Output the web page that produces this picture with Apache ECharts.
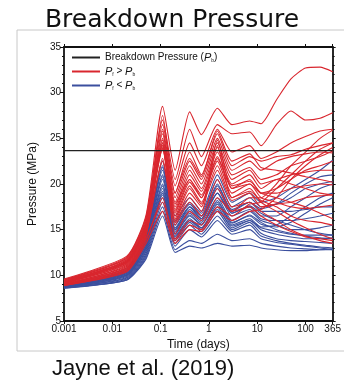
<!DOCTYPE html>
<html>
<head>
<meta charset="utf-8">
<script src="https://cdn.jsdelivr.net/npm/echarts@6/dist/echarts.min.js"></script>
<style>
html,body{margin:0;padding:0;background:#fff;}
#chart{width:344px;height:382px;}
</style>
</head>
<body>
<div id="chart"></div>
<script>
// ---- data ----
const times = [0.001, 0.02, 0.05, 0.11, 0.2, 0.4, 0.7, 1.5, 3, 7, 12, 25, 50, 100, 200, 365];
const xTickLabels = ['0.001', '0.01', '0.1', '1', '10', '100', '365'];
const yTickLabels = [5, 10, 15, 20, 25, 30, 35];
const breakdownPressure = 23.65;

// Pf > Pb (red)
const r01 = [9.6, 12.1, 16.6, 28.5, 21.5, 27.9, 25.4, 28.3, 26.5, 26.9, 26.6, 29.2, 31.5, 32.7, 32.8, 32.3];
const r02 = [9.5, 12.0, 16.4, 27.0, 20.5, 26.0, 23.0, 26.5, 25.5, 25.7, 24.2, 26.5, 28.0, 27.0, 27.2, 27.8];
const r03 = [9.4, 11.9, 16.2, 26.5, 19.8, 24.5, 22.0, 26.0, 23.5, 24.2, 22.8, 23.5, 24.5, 25.2, 25.8, 26.0];
const r04 = [9.5, 11.8, 16.0, 26.0, 19.0, 23.5, 21.0, 25.5, 22.0, 23.0, 22.5, 23.0, 23.2, 23.8, 24.2, 24.5];
const r05 = [9.3, 11.7, 15.8, 25.5, 18.5, 22.5, 20.5, 25.0, 21.5, 22.5, 21.5, 22.5, 23.0, 23.3, 23.5, 23.4];
const r06 = [9.4, 11.6, 15.6, 25.0, 18.0, 22.0, 20.0, 24.5, 21.0, 21.8, 20.5, 21.0, 22.0, 22.5, 23.0, 23.6];
const r07 = [9.2, 11.5, 15.5, 24.8, 17.5, 21.5, 19.5, 24.0, 20.5, 21.5, 20.0, 20.5, 21.0, 21.3, 21.5, 21.5];
const r08 = [9.3, 11.4, 15.3, 24.5, 17.2, 21.0, 19.2, 23.5, 20.0, 21.0, 19.5, 20.5, 20.0, 19.5, 19.0, 18.8];
const r09 = [9.1, 11.3, 15.2, 24.2, 17.0, 20.5, 18.8, 23.0, 19.5, 20.5, 19.0, 19.0, 19.5, 19.8, 20.0, 19.9];
const r10 = [9.2, 11.2, 15.0, 23.9, 16.8, 20.2, 18.5, 22.5, 19.0, 20.0, 18.5, 18.0, 17.5, 17.3, 17.5, 17.7];
const r11 = [9.0, 11.1, 14.9, 23.8, 16.5, 19.8, 18.0, 22.0, 18.5, 19.5, 18.0, 17.0, 16.0, 15.2, 14.5, 14.0];
const r12 = [9.1, 11.0, 14.8, 24.3, 16.2, 19.5, 17.8, 21.5, 18.2, 19.0, 17.5, 17.8, 18.0, 18.5, 18.7, 18.8];
const r13 = [9.0, 10.9, 14.6, 22.8, 16.0, 19.0, 17.5, 24.8, 19.5, 20.0, 19.0, 19.5, 20.5, 21.5, 22.0, 22.5];
const r14 = [9.0, 10.8, 14.5, 22.5, 15.8, 18.5, 17.0, 24.2, 18.5, 19.2, 18.2, 17.5, 16.5, 16.0, 15.8, 15.5];
const r15 = [8.9, 10.7, 14.3, 25.8, 17.8, 20.5, 18.5, 22.8, 19.8, 20.3, 19.0, 18.5, 18.0, 17.5, 16.8, 16.2];
const r16 = [9.2, 11.4, 15.4, 27.5, 19.0, 22.8, 20.8, 25.8, 22.5, 23.3, 21.8, 21.5, 21.2, 20.8, 20.5, 20.2];
const r17 = [9.3, 11.6, 15.7, 24.0, 15.5, 18.0, 16.5, 20.5, 17.5, 18.0, 17.0, 16.0, 15.0, 14.3, 13.8, 13.5];
const r18 = [8.9, 10.5, 13.8, 18.5, 14.0, 16.0, 15.5, 18.5, 17.0, 18.5, 18.5, 20.0, 22.0, 23.5, 25.0, 25.9];
const r19 = [9.0, 10.6, 14.0, 18.0, 13.8, 15.5, 15.0, 17.5, 16.5, 17.8, 18.0, 19.5, 21.0, 22.5, 23.8, 24.5];
const r20 = [8.9, 10.4, 13.5, 17.0, 13.5, 15.0, 14.8, 17.0, 16.0, 17.0, 17.2, 18.5, 20.5, 22.0, 23.2, 24.0];
const r21 = [9.2, 11.5, 15.3, 24.5, 14.5, 17.0, 16.0, 19.5, 17.0, 17.5, 16.5, 15.5, 14.8, 14.2, 14.0, 13.8];

// Pf < Pb (blue)
const b01 = [9.0, 10.8, 14.5, 22.5, 16.5, 18.5, 17.0, 21.0, 18.0, 19.0, 18.0, 18.5, 19.5, 20.5, 21.5, 22.6];
const b02 = [8.9, 10.6, 14.2, 22.0, 16.0, 18.0, 16.8, 20.5, 17.5, 18.5, 17.5, 17.8, 18.5, 19.5, 20.0, 20.3];
const b03 = [8.9, 10.5, 14.0, 21.5, 15.5, 17.5, 16.5, 20.0, 17.0, 18.0, 17.0, 17.0, 17.0, 17.2, 17.5, 17.5];
const b04 = [8.8, 10.4, 13.8, 21.0, 15.2, 17.2, 16.2, 19.5, 16.8, 17.5, 16.5, 16.5, 17.5, 18.5, 19.5, 20.0];
const b05 = [8.8, 10.3, 13.6, 20.5, 15.0, 17.0, 16.0, 19.0, 16.5, 17.2, 16.2, 16.0, 16.0, 16.2, 16.5, 16.8];
const b06 = [8.9, 10.2, 13.4, 20.0, 14.8, 16.8, 15.8, 18.5, 16.0, 17.0, 16.0, 15.5, 15.0, 15.0, 15.2, 15.5];
const b07 = [8.8, 10.1, 13.2, 19.5, 14.5, 16.5, 15.5, 18.2, 15.8, 16.5, 15.6, 15.3, 15.8, 16.8, 17.8, 18.5];
const b08 = [8.7, 10.0, 13.0, 19.2, 14.3, 16.2, 15.2, 17.8, 15.5, 16.2, 15.2, 14.8, 14.5, 14.4, 14.4, 14.4];
const b09 = [8.8, 9.9, 12.8, 19.0, 14.0, 16.0, 15.0, 17.5, 15.2, 16.0, 15.0, 14.5, 14.2, 14.0, 14.0, 14.1];
const b10 = [8.7, 9.8, 12.6, 18.5, 13.8, 15.8, 14.8, 17.0, 15.0, 15.8, 14.6, 14.0, 13.8, 13.7, 13.6, 13.5];
const b11 = [8.7, 9.7, 12.4, 18.0, 13.5, 15.5, 14.5, 16.5, 14.8, 15.5, 14.3, 13.8, 13.5, 13.3, 13.1, 13.0];
const b12 = [8.6, 9.6, 12.2, 17.5, 13.2, 15.0, 14.2, 16.0, 14.5, 15.0, 14.0, 13.6, 13.4, 13.2, 13.0, 12.8];
const b13 = [8.7, 9.5, 12.0, 17.0, 12.8, 13.8, 13.5, 14.5, 13.8, 14.0, 13.5, 13.2, 13.0, 12.9, 12.8, 12.8];
const b14 = [8.6, 9.5, 11.8, 16.5, 12.5, 13.2, 13.0, 13.5, 13.2, 13.3, 13.0, 12.8, 12.7, 12.7, 12.8, 12.9];
const b15 = [8.8, 10.4, 13.9, 20.8, 15.0, 17.5, 16.2, 19.8, 17.2, 18.0, 17.3, 17.8, 19.0, 20.0, 20.8, 21.0];
const b16 = [8.9, 10.6, 14.1, 21.8, 15.8, 17.8, 16.5, 19.0, 16.8, 17.6, 16.8, 16.0, 15.5, 15.0, 14.6, 14.4];
const b17 = [8.7, 10.0, 13.1, 18.8, 14.2, 16.0, 15.2, 17.2, 15.4, 16.0, 15.3, 15.5, 16.5, 17.5, 18.5, 19.0];
const b18 = [8.8, 10.2, 13.5, 19.8, 14.6, 16.6, 15.6, 18.0, 15.7, 16.6, 15.8, 15.0, 14.6, 14.3, 14.1, 14.0];

const redLines = [r01, r02, r03, r04, r05, r06, r07, r08, r09, r10, r11, r12, r13, r14, r15, r16, r17, r18, r19, r20, r21];
const blueLines = [b01, b02, b03, b04, b05, b06, b07, b08, b09, b10, b11, b12, b13, b14, b15, b16, b17, b18];

// ---- chart ----
const RED = '#d9262e', BLUE = '#3b4f9e';
const FONT = 'Liberation Sans';
const chart = echarts.init(document.getElementById('chart'), null, {renderer: 'canvas'});

const mk = (vals) => times.map((t, i) => [t, vals[i]]);
const series = [];
blueLines.forEach(v => series.push({
  name: 'low', type: 'line', data: mk(v), smooth: 0.2, showSymbol: false, silent: true,
  lineStyle: {color: BLUE, width: 1.1}, itemStyle: {color: BLUE}, z: 2
}));
redLines.forEach(v => series.push({
  name: 'high', type: 'line', data: mk(v), smooth: 0.2, showSymbol: false, silent: true,
  lineStyle: {color: RED, width: 1.1}, itemStyle: {color: RED}, z: 3
}));
series.push({
  name: 'bp', type: 'line', data: [[times[0], breakdownPressure], [times[times.length - 1], breakdownPressure]],
  showSymbol: false, silent: true, lineStyle: {color: '#222', width: 1.4}, itemStyle: {color: '#222'}, z: 4
});

const legendText = {
  bp: '{n|Breakdown Pressure (}{i|P}{s|b}{n|)}',
  high: '{i|P}{s|f}{n| > }{i|P}{s|b}',
  low: '{i|P}{s|f}{n| < }{i|P}{s|b}'
};

const axisLineStyle = {color: '#111', width: 1.8};

chart.setOption({
  animation: false,
  backgroundColor: '#fff',
  title: {
    text: 'Breakdown Pressure', left: 'center', top: 8, padding: 0,
    textStyle: {fontFamily: 'DejaVu Sans', fontSize: 25, fontWeight: 'normal', color: '#111'}
  },
  graphic: [
    {type: 'rect', shape: {x: 17, y: 30, width: 340, height: 321}, style: {fill: 'none', stroke: '#c8c8c8', lineWidth: 1}, z: -1},
    {type: 'text', left: 52, top: 358, style: {text: 'Jayne et al. (2019)', fontFamily: FONT, fontSize: 22, fill: '#111'}}
  ],
  legend: {
    orient: 'vertical', left: 72, top: 52, itemGap: 3, itemWidth: 28, itemHeight: 2, padding: 0,
    selectedMode: false,
    data: [
      {name: 'bp', icon: 'rect', itemStyle: {color: '#222'}},
      {name: 'high', icon: 'rect', itemStyle: {color: RED}},
      {name: 'low', icon: 'rect', itemStyle: {color: BLUE}}
    ],
    formatter: (n) => legendText[n],
    textStyle: {
      fontFamily: FONT, fontSize: 10, color: '#111',
      rich: {
        n: {fontFamily: FONT, fontSize: 10, color: '#111'},
        i: {fontFamily: FONT, fontSize: 11, fontStyle: 'italic', color: '#111'},
        s: {fontFamily: FONT, fontSize: 5, color: '#111', padding: [6, 0, 0, 0]}
      }
    }
  },
  grid: {left: 64, right: 7, top: 47, bottom: 61, show: false},
  xAxis: [{
    type: 'log', logBase: 10, min: 0.001, max: 365,
    name: 'Time (days)', nameLocation: 'middle', nameGap: 16,
    nameTextStyle: {fontFamily: FONT, fontSize: 12, color: '#111'},
    axisLine: {show: true, lineStyle: axisLineStyle},
    axisTick: {show: true, inside: false, length: 3, lineStyle: {color: '#111'}},
    minorTick: {show: false},
    splitLine: {show: false},
    axisLabel: {
      fontFamily: FONT, fontSize: 10, color: '#111', margin: 3, showMaxLabel: true,
      formatter: (v) => {
        const s = xTickLabels.find(l => Math.abs(parseFloat(l) - v) / parseFloat(l) < 0.01);
        return s || '';
      }
    }
  }, {
    type: 'log', logBase: 10, min: 0.001, max: 365, position: 'top',
    axisLine: {show: true, lineStyle: axisLineStyle},
    axisTick: {show: true, length: 3, lineStyle: {color: '#111'}},
    axisLabel: {show: false}, splitLine: {show: false}
  }],
  yAxis: [{
    type: 'value', min: 5, max: 35, interval: 5,
    name: 'Pressure (MPa)', nameLocation: 'middle', nameGap: 18, nameRotate: 90,
    nameTextStyle: {fontFamily: FONT, fontSize: 12, color: '#111'},
    axisLine: {show: true, lineStyle: axisLineStyle},
    axisTick: {show: true, length: 4, lineStyle: {color: '#111'}},
    minorTick: {show: true, splitNumber: 5, length: 2, lineStyle: {color: '#111'}},
    splitLine: {show: false},
    axisLabel: {fontFamily: FONT, fontSize: 10, color: '#111', margin: 3,
      formatter: (v) => yTickLabels.includes(v) ? String(v) : ''}
  }, {
    type: 'value', min: 5, max: 35, interval: 5, position: 'right',
    axisLine: {show: true, lineStyle: axisLineStyle},
    axisTick: {show: true, length: 3, lineStyle: {color: '#111'}},
    minorTick: {show: true, splitNumber: 5, length: 2, lineStyle: {color: '#111'}},
    axisLabel: {show: false}, splitLine: {show: false}
  }],
  series: series
});
</script>
</body>
</html>
